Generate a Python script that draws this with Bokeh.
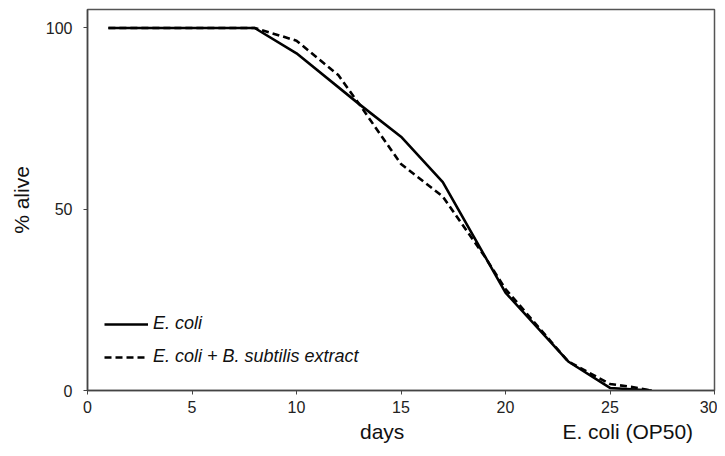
from bokeh.plotting import figure
from bokeh.models import Legend, LegendItem, LinearAxis, Range1d, FixedTicker
from bokeh.embed import file_html
from bokeh.resources import INLINE

# Data
days_ecoli = [1, 8, 10, 13, 15, 17, 20, 23, 25, 27]
alive_ecoli = [100, 100, 93, 79, 70, 57.5, 27, 8, 0.7, 0]

days_bsub = [1, 8, 10, 12, 13, 15, 17, 19, 20, 23, 25, 26, 27]
alive_bsub = [100, 100, 96.5, 87, 79, 62.5, 53.5, 37, 28, 8, 1.8, 1, 0]

x_ticks = [0, 5, 10, 15, 20, 25, 30]
y_ticks = [0, 50, 100]

# texts under the x axis: "days" title and the strain caption
bottom_texts = {14.1: "days", 25.85: "E. coli (OP50)"}

FONT = "Liberation Sans"

p = figure(width=717, height=448, output_backend="svg", toolbar_location=None,
           x_range=Range1d(0, 30), y_range=Range1d(0, 105.1),
           min_border_left=87, min_border_right=3, min_border_top=9, min_border_bottom=58)

p.xgrid.visible = False
p.ygrid.visible = False
p.outline_line_color = "#555555"
p.outline_line_width = 1.5
p.background_fill_color = "white"
p.border_fill_color = "white"

r1 = p.line(days_ecoli, alive_ecoli, line_color="black", line_width=2.6)
r2 = p.line(days_bsub, alive_bsub, line_color="black", line_width=2.6, line_dash="7 4")

for ax in (p.xaxis[0], p.yaxis[0]):
    ax.axis_line_color = "#444444"
    ax.axis_line_width = 1.5
    ax.major_tick_line_color = "#444444"
    ax.major_tick_out = 4
    ax.major_tick_in = 0
    ax.minor_tick_line_color = None
    ax.major_label_text_font = FONT
    ax.major_label_text_font_size = "16px"
    ax.major_label_text_color = "#222222"
    ax.axis_label_text_font = FONT
    ax.axis_label_text_font_size = "21px"
    ax.axis_label_text_font_style = "normal"
    ax.axis_label_text_color = "#111111"

p.xaxis.ticker = FixedTicker(ticks=x_ticks)
p.yaxis.ticker = FixedTicker(ticks=y_ticks)
p.yaxis.axis_label = "% alive"
p.xaxis.major_label_standoff = 6
p.yaxis.major_label_standoff = 11
p.yaxis.axis_label_standoff = 10

# second row under the x axis carrying "days" and the caption
cap = LinearAxis(ticker=FixedTicker(ticks=list(bottom_texts.keys())),
                 major_label_overrides=bottom_texts,
                 axis_line_color=None, major_tick_line_color=None,
                 minor_tick_line_color=None, major_tick_out=0, major_tick_in=0,
                 major_label_standoff=4,
                 major_label_text_font=FONT, major_label_text_font_size="21px",
                 major_label_text_color="#111111")
p.add_layout(cap, "below")

legend = Legend(items=[LegendItem(label="E. coli", renderers=[r1]),
                       LegendItem(label="E. coli + B. subtilis extract", renderers=[r2])],
                location=(17, 23), padding=0, margin=0, spacing=12,
                glyph_width=44, glyph_height=20, label_height=20, label_standoff=5,
                label_text_font=FONT, label_text_font_size="18px",
                label_text_font_style="italic", label_text_color="#111111",
                border_line_alpha=0, background_fill_alpha=0)
p.add_layout(legend, "center")

open("out.html", "w").write(file_html(p, INLINE))
